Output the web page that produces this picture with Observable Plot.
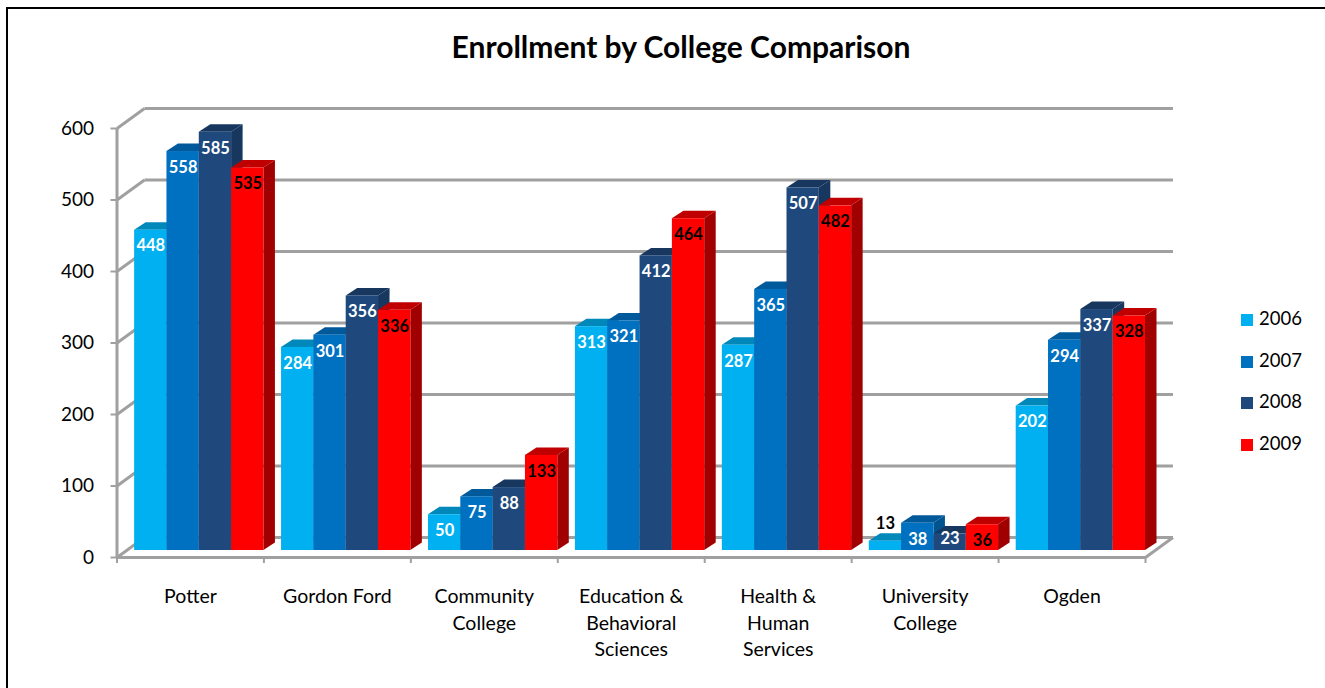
<!DOCTYPE html>
<html>
<head>
<meta charset="utf-8">
<script src="https://cdn.jsdelivr.net/npm/d3@7"></script>
<script src="https://cdn.jsdelivr.net/npm/@observablehq/plot@0.6"></script>
<style>
html,body{margin:0;padding:0;background:#fff;overflow:hidden}
#page{position:relative;width:1325px;height:688px;font-family:Lato,sans-serif}
#frame{position:absolute;left:6px;top:7px;width:1325px;height:681px;border-left:2.5px solid #000;border-top:2px solid #000;box-sizing:border-box;pointer-events:none}
#title{position:absolute;left:0;top:27px;width:1362px;text-align:center;font-size:30px;font-weight:700;line-height:38px;color:#000}
#legend{position:absolute;left:1241px;top:298px;font-size:18.5px;color:#000}
#legend div{height:41.5px;line-height:41.5px;white-space:nowrap}
#legend i{display:inline-block;width:12px;height:12px;margin-right:6px;vertical-align:-1px}
svg{position:absolute;left:0;top:0}
</style>
</head>
<body>
<div id="page">
<div id="chart"></div>
<div id="frame"></div>
<div id="title">Enrollment by College Comparison</div>
<div id="legend"></div>
</div>
<script>
const colleges = ["Potter","Gordon Ford","Community\nCollege","Education &\nBehavioral\nSciences","Health &\nHuman\nServices","University\nCollege","Ogden"];
const years = ["2006","2007","2008","2009"];
const v2006 = [448,284,50,313,287,13,202];
const v2007 = [558,301,75,321,365,38,294];
const v2008 = [585,356,88,412,507,23,337];
const v2009 = [535,336,133,464,482,36,328];
const yTicks = [0,100,200,300,400,500,600];
const frontColors = ["#00B0F0","#0070C0","#1F497D","#FF0000"];
const topColors = ["#0088BA","#00599A","#17375E","#C00000"];
const sideColors = ["#0085B5","#00548F","#17375E","#A00000"];

const rows = [v2006,v2007,v2008,v2009].flatMap((vals,s)=>vals.map((v,c)=>({college:c,year:years[s],s,v})));

const wallDX = 0.187, wallDY = 28;
const barStart = 0.12, barW = 0.22;
const depthX = 11.5, depthY = 7.5;
const planeDY = -7;
const grid = "#A0A0A0";

function extrude(index, scales, values, dims, ctx, next){
  const g = next(index, scales, values, dims, ctx);
  const rects = [...g.querySelectorAll("rect")];
  rects.forEach((r,k)=>{
    const x=+r.getAttribute("x"), y=+r.getAttribute("y"), w=+r.getAttribute("width"), h=+r.getAttribute("height");
    const s=rows[index[k]].s;
    const add=(pts,fill)=>{
      const p=document.createElementNS("http://www.w3.org/2000/svg","polygon");
      p.setAttribute("points",pts.map(q=>q.join(",")).join(" "));
      p.setAttribute("fill",fill);
      g.insertBefore(p,r);
    };
    add([[x+w,y],[x+w+depthX,y-depthY],[x+w+depthX,y+h-depthY],[x+w,y+h]],sideColors[s]);
    add([[x,y],[x+depthX,y-depthY],[x+w+depthX,y-depthY],[x+w,y]],topColors[s]);
  });
  return g;
}
const labelMark = (test, dy) => Plot.text(rows.filter(test),{
  x:d=>d.college+barStart+(d.s+0.5)*barW, y:"v", text:d=>String(d.v), dy:planeDY+dy,
  fill:d=>(d.s===3||d.v<20)?"#000":"#fff", fontWeight:700, fontSize:16.5});

const chart = Plot.plot({
  width:1325, height:688,
  marginLeft:116.5, marginRight:180, marginTop:128, marginBottom:131,
  style:{background:"transparent",fontFamily:"Lato,sans-serif"},
  x:{type:"linear",domain:[0,7]},
  y:{domain:[0,600]},
  marks:[
    Plot.link(yTicks,{x1:wallDX,x2:7+wallDX,y1:d=>d+wallDY,y2:d=>d+wallDY,stroke:grid,strokeWidth:3}),
    Plot.link(yTicks,{x1:()=>0,x2:wallDX,y1:d=>d,y2:d=>d+wallDY,stroke:grid,strokeWidth:3}),
    Plot.link([0],{x1:()=>7,x2:7+wallDX,y1:()=>0,y2:wallDY,stroke:grid,strokeWidth:3}),
    Plot.ruleX([0],{y1:()=>0,y2:()=>600,stroke:grid,strokeWidth:3}),
    Plot.ruleY([0],{x1:()=>0,x2:()=>7,stroke:grid,strokeWidth:3}),
    Plot.axisY(yTicks,{anchor:"left",tickSize:6,tickPadding:17,stroke:grid,strokeWidth:2,color:"#000",fontSize:19,label:null}),
    Plot.axisX(d3.range(8),{anchor:"bottom",tickSize:6,tickFormat:()=>"",stroke:grid,strokeWidth:2,label:null}),
    Plot.axisX(colleges.map((d,i)=>i+0.5),{anchor:"bottom",tickSize:0,tickPadding:27,tickFormat:d=>colleges[d-0.5],lineHeight:1.36,fontSize:19.5,color:"#000",label:null,lineWidth:Infinity}),
    Plot.rectY(rows,{x1:d=>d.college+barStart+d.s*barW,x2:d=>d.college+barStart+(d.s+1)*barW,y1:()=>0,y2:"v",dy:planeDY,fill:d=>frontColors[d.s],render:extrude}),
    labelMark(d=>d.v>=30,16),
    labelMark(d=>d.v>=20&&d.v<30,5),
    labelMark(d=>d.v<20,-17)
  ]
});
document.getElementById("chart").append(chart);
const lg=document.getElementById("legend");
years.forEach((y,i)=>{const d=document.createElement("div");const sw=document.createElement("i");sw.style.background=frontColors[i];d.append(sw,y);lg.append(d);});
</script>
</body>
</html>
